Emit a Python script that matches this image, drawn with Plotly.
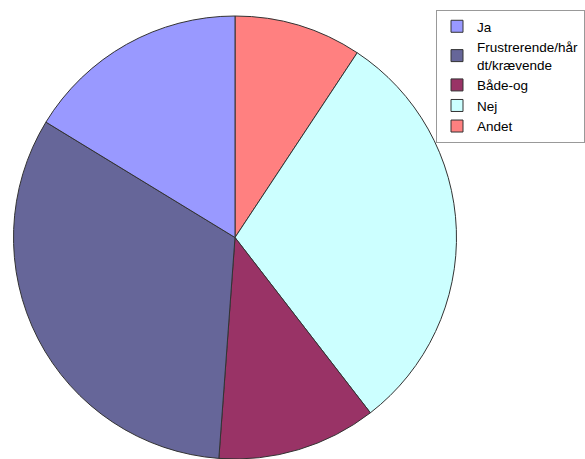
import plotly.graph_objects as go

labels = ["Ja", "Frustrerende/hår<br>dt/krævende", "Både-og", "Nej", "Andet"]
values = [7, 14, 5, 13, 4]
colors = ["#9999FF", "#666699", "#993366", "#CCFFFF", "#FF8080"]

W, H = 585, 459
# Drawn clockwise from 12 o'clock in reverse order (Andet first), which equals
# the reference's counterclockwise layout starting with "Ja".
fig = go.Figure(go.Pie(
    labels=labels[::-1], values=values[::-1], sort=False, direction="clockwise",
    rotation=0, textinfo="none", hoverinfo="label+percent",
    marker=dict(colors=colors[::-1], line=dict(color="#333333", width=1)),
    domain=dict(x=[13 / W, 457 / W], y=[0, 1 - 16 / H]),
))
fig.update_layout(
    width=W, height=H, margin=dict(l=0, r=0, t=0, b=0, autoexpand=False),
    paper_bgcolor="white", plot_bgcolor="white",
    font=dict(family="Liberation Sans, Arial, sans-serif", size=13.5, color="#000000"),
    legend=dict(x=436 / W, y=1 - 10 / H, xanchor="left", yanchor="top",
                bordercolor="#999999", borderwidth=1, bgcolor="white",
                font=dict(size=13.5), tracegroupgap=0, traceorder="reversed",
                itemwidth=30),
)
fig.write_html("out.html")
